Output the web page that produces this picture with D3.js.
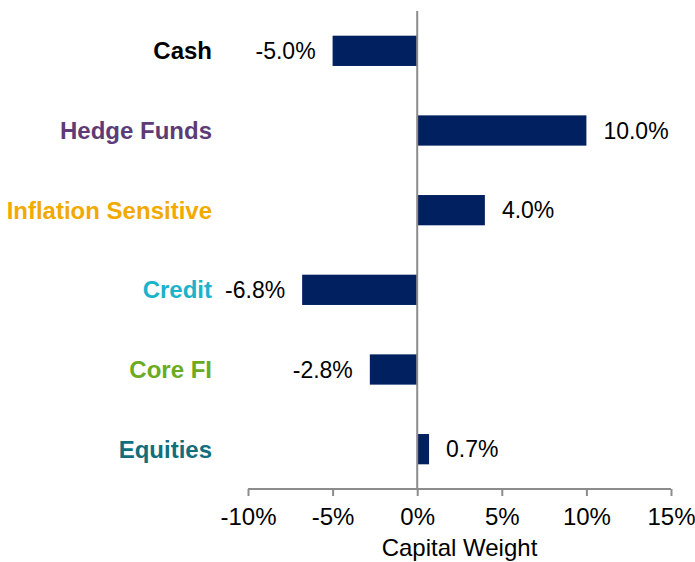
<!DOCTYPE html>
<html lang="en">
  <head>
    <meta charset="UTF-8" />
    <title>Capital Weight</title>
    <style>
      body { margin: 0; background: #fff; }
      text { font-family: Arial, "Liberation Sans", sans-serif; }
      .cat { font-weight: bold; font-size: 24px; text-anchor: end; dominant-baseline: central; }
      .val { font-size: 23px; fill: #000; dominant-baseline: central; }
      .x-axis text { font-size: 24px; fill: #000; }
      .x-axis path, .x-axis line { stroke: #8c8c8c; stroke-width: 2; }
    </style>
  </head>
  <body>
    <svg width="695" height="562"></svg>
    <script src="https://d3js.org/d3.v7.min.js"></script>
    <script>
      const categories = ["Cash", "Hedge Funds", "Inflation Sensitive", "Credit", "Core FI", "Equities"];
      const values = [-5.0, 10.0, 4.0, -6.8, -2.8, 0.7];
      const labelColors = ["#000000", "#5e3b76", "#f2a900", "#1ab3cc", "#6aab1f", "#126e7c"];
      const tickValues = [-10, -5, 0, 5, 10, 15];

      const svg = d3.select("svg");
      const plotLeft = 248, plotRight = 671, plotTop = 11, plotBottom = 489;

      const x = d3.scaleLinear().domain([-10, 15]).range([plotLeft, plotRight]);
      const y = d3.scaleBand().domain(categories).range([plotTop, plotBottom]).paddingInner(0.62).paddingOuter(0.31);

      // bars
      svg.append("g")
        .selectAll("rect")
        .data(values)
        .enter()
        .append("rect")
        .attr("x", (d) => x(Math.min(0, d)))
        .attr("y", (d, i) => y(categories[i]))
        .attr("width", (d) => Math.abs(x(d) - x(0)))
        .attr("height", y.bandwidth())
        .attr("fill", "#002060");

      // zero line
      svg.append("line")
        .attr("x1", x(0)).attr("x2", x(0))
        .attr("y1", plotTop).attr("y2", plotBottom)
        .attr("stroke", "#8c8c8c")
        .attr("stroke-width", 2);

      // x axis
      const xAxis = svg.append("g")
        .attr("class", "x-axis")
        .attr("transform", `translate(0,${plotBottom})`)
        .call(d3.axisBottom(x).tickValues(tickValues).tickSize(7).tickSizeOuter(0).tickPadding(12).tickFormat((d) => d + "%"));
      xAxis.select(".domain").attr("d", `M${plotLeft},0H${plotRight}`);

      svg.append("text")
        .attr("x", (plotLeft + plotRight) / 2)
        .attr("y", 556)
        .attr("text-anchor", "middle")
        .attr("font-size", 24)
        .text("Capital Weight");

      // category labels
      svg.append("g")
        .selectAll("text")
        .data(categories)
        .enter()
        .append("text")
        .attr("class", "cat")
        .attr("x", 212)
        .attr("y", (d) => y(d) + y.bandwidth() / 2)
        .attr("fill", (d, i) => labelColors[i])
        .text((d) => d);

      // value labels
      svg.append("g")
        .selectAll("text")
        .data(values)
        .enter()
        .append("text")
        .attr("class", "val")
        .attr("x", (d) => (d < 0 ? x(d) - 17 : x(d) + 17))
        .attr("y", (d, i) => y(categories[i]) + y.bandwidth() / 2)
        .attr("text-anchor", (d) => (d < 0 ? "end" : "start"))
        .text((d) => d.toFixed(1) + "%");
    </script>
  </body>
</html>
